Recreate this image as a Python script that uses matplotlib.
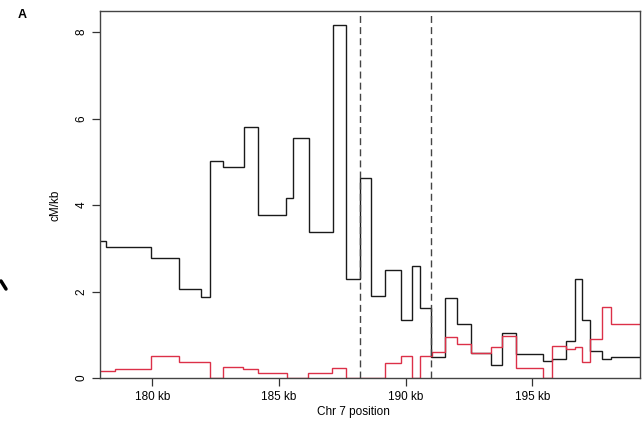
import numpy as np
import matplotlib.pyplot as plt
from matplotlib.lines import Line2D

plt.rcParams['font.family'] = ['Liberation Sans', 'DejaVu Sans']

# recombination rate bins along chr 7 (kb), black = population 1, red = population 2
black_edges = [177.94, 178.16, 179.94, 181.07, 181.93, 182.28, 182.79, 183.62,
               184.18, 185.28, 185.57, 186.19, 187.12, 187.64, 188.19, 188.62,
               189.17, 189.83, 190.25, 190.57, 190.99, 191.57, 192.02, 192.58,
               193.37, 193.79, 194.36, 195.44, 195.77, 196.33, 196.69, 196.95,
               197.28, 197.74, 198.11, 199.25]
black_rate = [3.17, 3.04, 2.77, 2.07, 1.87, 5.02, 4.89, 5.81, 3.76, 4.17,
              5.56, 3.37, 8.16, 2.28, 4.62, 1.89, 2.50, 1.34, 2.60, 1.63,
              0.49, 1.84, 1.26, 0.57, 0.30, 1.03, 0.56, 0.39, 0.45, 0.86,
              2.30, 1.34, 0.62, 0.45, 0.49]

red_edges = [177.94, 178.53, 179.94, 181.05, 182.28, 182.78, 183.59, 184.18,
             185.32, 186.16, 187.11, 187.64, 189.19, 189.82, 190.26, 190.56,
             191.03, 191.56, 192.02, 192.58, 193.37, 193.79, 194.36, 195.44,
             195.77, 196.33, 196.69, 196.95, 197.28, 197.74, 198.11, 199.25]
red_rate = [0.17, 0.21, 0.50, 0.36, 0.0, 0.25, 0.20, 0.12, 0.0, 0.12,
            0.22, 0.0, 0.34, 0.51, 0.0, 0.51, 0.59, 0.94, 0.79, 0.57,
            0.71, 0.97, 0.22, 0.0, 0.74, 0.66, 0.71, 0.38, 0.90, 1.65, 1.24]

hotspot_bounds = [188.2, 191.0]
xticks = [180, 185, 190, 195]
yticks = [0, 2, 4, 6, 8]

fig = plt.figure(figsize=(6.42, 4.21), dpi=100)
ax = fig.add_axes([100 / 642, 43 / 421, 540 / 642, 367 / 421])

ax.stairs(black_rate, black_edges, baseline=None, color='#1a1a1a', lw=1.0)
ax.stairs(red_rate, red_edges, baseline=None, color='#dc3048', lw=1.0)

for xv in hotspot_bounds:
    ax.axvline(xv, color='#444444', lw=1.0, ls=(0, (5, 3)))

ax.set_xlim(black_edges[0], black_edges[-1])
ax.set_ylim(0, 8.49)

ax.set_xticks(xticks)
ax.set_xticklabels([f'{t} kb' for t in xticks], fontsize=8.5)
ax.set_yticks(yticks)
ax.set_yticklabels([str(t) for t in yticks], fontsize=8.5, rotation=90, va='center')
ax.tick_params(direction='out', length=6, width=0.9, color='#333333', pad=3)

for sp in ax.spines.values():
    sp.set_color('#444444')
    sp.set_linewidth(1.0)

ax.set_xlabel('Chr 7 position', fontsize=8.5, labelpad=2)
ax.xaxis.set_label_coords(0.47, -0.075)
ax.set_ylabel('cM/kb', fontsize=8.5, labelpad=6)
ax.yaxis.set_label_coords(-0.072, 0.47)

fig.text(22 / 642, 1 - 15 / 421, 'A', fontsize=9, fontweight='bold', ha='center', va='center')

# stray stroke at the left margin of the scanned figure
fig.add_artist(Line2D([1 / 642, 6 / 642], [1 - 281 / 421, 1 - 289 / 421],
                      transform=fig.transFigure, color='black', lw=2.5,
                      solid_capstyle='round'))

fig.savefig('out.png', dpi=100)
